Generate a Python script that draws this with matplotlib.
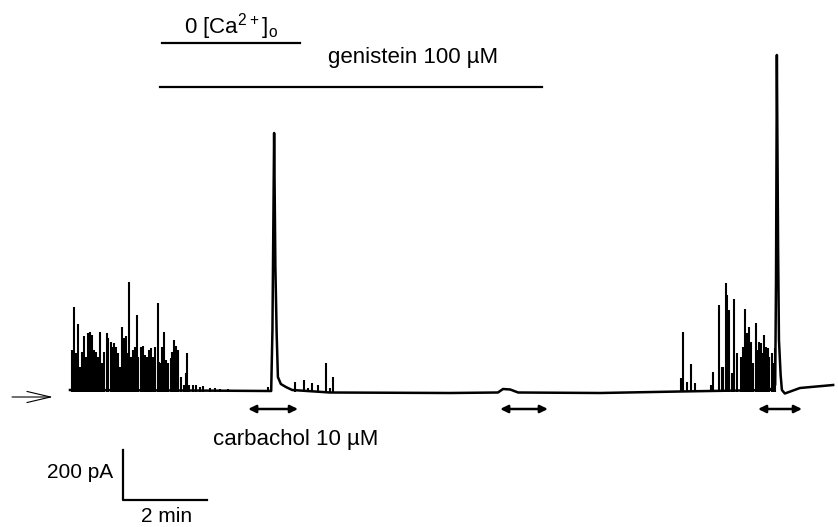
import matplotlib
matplotlib.use("Agg")
import matplotlib.pyplot as plt

plt.rcParams['font.family'] = ['Liberation Sans', 'DejaVu Sans']
plt.rcParams['mathtext.fontset'] = 'custom'
plt.rcParams['mathtext.rm'] = 'Liberation Sans'

# holding current trace: time in min, current in pA (baseline ~0)
trace_t = [0.00, 2.74, 4.76, 4.79, 4.82, 4.86, 4.89, 4.92, 4.95, 5.02, 5.14, 5.29,
           6.19, 9.05, 10.19, 10.31, 10.48, 10.67, 12.62, 14.52, 16.67, 16.79,
           16.81, 16.83, 16.86, 16.88, 16.92, 16.95, 17.02, 17.38, 18.17]
trace_i = [4, 2, 0, 0, 244, 1032, 496, 232, 56, 28, 16, 4,
           -6, -8, -6, 8, 6, -6, -8, -2, 4, 24,
           444, 1344, 564, 204, 64, 4, -10, 12, 24]

# spontaneous events (peak time, peak current)
ev_t = [0.05, 0.10, 0.14, 0.19, 0.24, 0.29, 0.33, 0.38, 0.43, 0.48, 0.52, 0.57,
        0.62, 0.67, 0.71, 0.76, 0.81, 0.88, 0.90, 0.98, 1.00, 1.05, 1.10, 1.14,
        1.19, 1.24, 1.29, 1.33, 1.38, 1.40, 1.45, 1.50, 1.55, 1.60, 1.62, 1.69,
        1.74, 1.79, 1.83, 1.88, 1.93, 1.98, 2.02, 2.10, 2.12, 2.17, 2.19, 2.24,
        2.29, 2.33, 2.40, 2.43, 2.48, 2.52, 2.57, 2.64, 2.71, 2.76, 2.79, 2.83,
        2.93, 3.00, 3.10, 3.17, 3.33, 3.45, 3.57, 3.76, 4.71,
        5.36, 5.57, 5.67, 5.76, 5.90, 6.10, 6.19, 6.26,
        14.55, 14.60, 14.69, 14.79, 14.88, 15.26, 15.31, 15.45, 15.52, 15.55,
        15.62, 15.64, 15.69, 15.76, 15.81, 15.88, 15.98, 16.02, 16.07, 16.12,
        16.17, 16.21, 16.26, 16.33, 16.36, 16.40, 16.45, 16.48, 16.52, 16.57,
        16.62, 16.64, 16.71, 16.76, 16.79]
ev_i = [164, 336, 152, 268, 96, 156, 220, 136, 232, 236, 224, 164,
        156, 136, 236, 112, 156, 232, 212, 196, 176, 192, 176, 152,
        96, 256, 212, 220, 152, 436, 136, 164, 176, 304, 136, 176,
        180, 144, 136, 164, 172, 136, 176, 352, 116, 112, 176, 236,
        124, 112, 132, 156, 204, 180, 164, 56, 24, 72, 152, 24,
        24, 24, 16, 20, 12, 12, 8, 8, 16,
        36, 44, 12, 32, 24, 112, 12, 56,
        52, 236, 36, 108, 32, 24, 76, 344, 96, 96,
        432, 384, 324, 72, 368, 152, 136, 176, 328, 232,
        256, 196, 112, 272, 164, 196, 192, 152, 224, 176,
        172, 136, 152, 112, 172]

# application periods (start, end) in min
ca_free = (2.19, 5.48)
genistein = (2.14, 11.24)
carbachol = [(4.24, 5.43), (10.24, 11.38), (16.38, 17.43)]

fig = plt.figure(figsize=(8.38, 5.27), dpi=100)
ax = fig.add_axes([0, 0, 1, 1])
ax.set_xlim(-70 / 42, 768 / 42)
ax.set_ylim(-544, 1564)
ax.axis('off')

ax.vlines(ev_t, -4, ev_i, color='black', lw=1.5)
ax.plot(trace_t, trace_i, color='black', lw=1.8, solid_joinstyle='round')

# solution bars
ax.plot(ca_free, [1392, 1392], color='black', lw=1.6)
ax.plot(genistein, [1216, 1216], color='black', lw=1.6)
ax.text(3.83, 1432, r'0 [Ca$^{2+}$]$_\mathrm{o}$', ha='center', va='baseline', fontsize=16)
ax.text(8.17, 1312, 'genistein 100 µM', ha='center', va='baseline', fontsize=16)

# carbachol applications
for a, b in carbachol:
    ax.annotate('', xy=(b, -72), xytext=(a, -72),
                arrowprops=dict(arrowstyle='<|-|>,head_length=0.45,head_width=0.22',
                                color='black', lw=1.8, shrinkA=0, shrinkB=0))
ax.text(5.38, -216, 'carbachol 10 µM', ha='center', va='baseline', fontsize=16)

# zero-current marker
ax.annotate('', xy=(-0.405, -24), xytext=(-1.38, -24),
            arrowprops=dict(arrowstyle='->,head_length=1.7,head_width=0.4',
                            color='black', lw=0.8, shrinkA=0, shrinkB=0))

# scale bars
ax.plot([1.26, 1.26, 3.26], [-236, -436, -436], color='black', lw=1.6)
ax.text(1.02, -324, '200 pA', ha='right', va='center', fontsize=15)
ax.text(2.31, -524, '2 min', ha='center', va='baseline', fontsize=15)

fig.savefig('out.png', dpi=100, facecolor='white')
